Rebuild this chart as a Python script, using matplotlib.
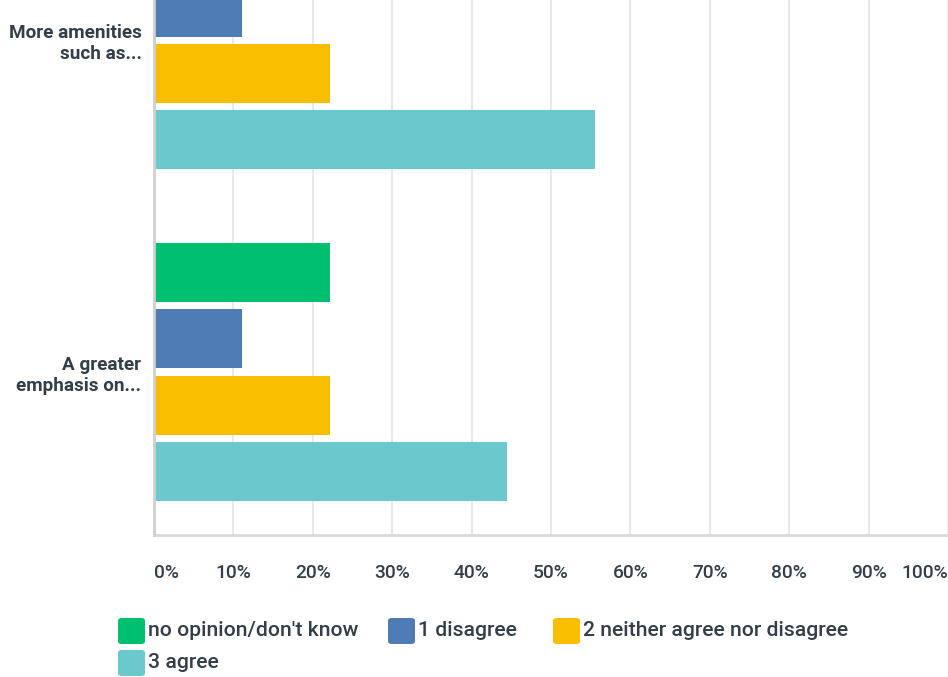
import matplotlib
matplotlib.use("Agg")
from matplotlib import pyplot as plt
from matplotlib.patches import FancyBboxPatch

# survey answers (percent of respondents)
questions = ["More amenities\nsuch as...", "A greater\nemphasis on..."]
series_names = ["no opinion/don't know", "1 disagree",
                "2 neither agree nor disagree", "3 agree"]
no_opinion = [11.1, 22.2]
disagree = [11.1, 11.1]
neutral = [22.2, 22.2]
agree = [55.6, 44.4]
colors = ["#00BF6F", "#507CB6", "#F9BE00", "#6BC8CD"]
xticks = [0, 10, 20, 30, 40, 50, 60, 70, 80, 90, 100]

text_col = "#333E48"
plt.rcParams['font.family'] = ['Roboto', 'DejaVu Sans']

fig = plt.figure(figsize=(9.48, 6.77), dpi=100)
ax = fig.add_axes([154 / 948., (677 - 535) / 677., 1 - 154 / 948., 535 / 677.])

group_pos = [0, 5]
offsets = [-1.5, -0.5, 0.5, 1.5]
all_series = [no_opinion, disagree, neutral, agree]
for vals, off, col in zip(all_series, offsets, colors):
    ys = [g + off for g in group_pos]
    ax.barh(ys, vals, height=0.89, color=col, zorder=3, linewidth=0)

ax.set_xlim(0, 100)
ax.set_ylim(7.46, -0.61)
ax.set_xticks(xticks)
ax.set_xticklabels(["%d%%" % t for t in xticks], fontsize=13.8,
                   color=text_col, fontweight='medium')
ax.tick_params(axis='x', length=0, pad=21)
labels = ax.get_xticklabels()
labels[0].set_ha('left')
labels[-1].set_ha('right')

ax.set_yticks(group_pos)
ax.set_yticklabels(questions, fontsize=13.6, color=text_col,
                   fontweight='bold', linespacing=1.2)
ax.tick_params(axis='y', length=0, pad=9)

ax.grid(axis='x', color='#E8E8E8', linewidth=1.5, zorder=0)
ax.grid(axis='y', visible=False)
for s in ['top', 'right']:
    ax.spines[s].set_visible(False)
ax.spines['left'].set_color('#CFCFCF')
ax.spines['left'].set_linewidth(2)
ax.spines['bottom'].set_color('#D9D9D9')
ax.spines['bottom'].set_linewidth(2)
ax.spines['left'].set_zorder(4)

# legend drawn by hand, SurveyMonkey style
W, H = 948., 677.
legend_spots = [(118, 631), (388, 631), (553, 631), (118, 663)]
for (px, py), name, col in zip(legend_spots, series_names, colors):
    box = FancyBboxPatch(((px) / W, (H - py - 13) / H), 27 / W, 26 / H,
                         boxstyle="round,pad=0,rounding_size=0.004",
                         transform=fig.transFigure, facecolor=col,
                         edgecolor='none')
    fig.patches.append(box)
    fig.text((px + 30) / W, (H - py) / H, name, fontsize=15.2,
             color=text_col, fontweight='medium', va='center', ha='left')

plt.savefig('out.png', dpi=100)
